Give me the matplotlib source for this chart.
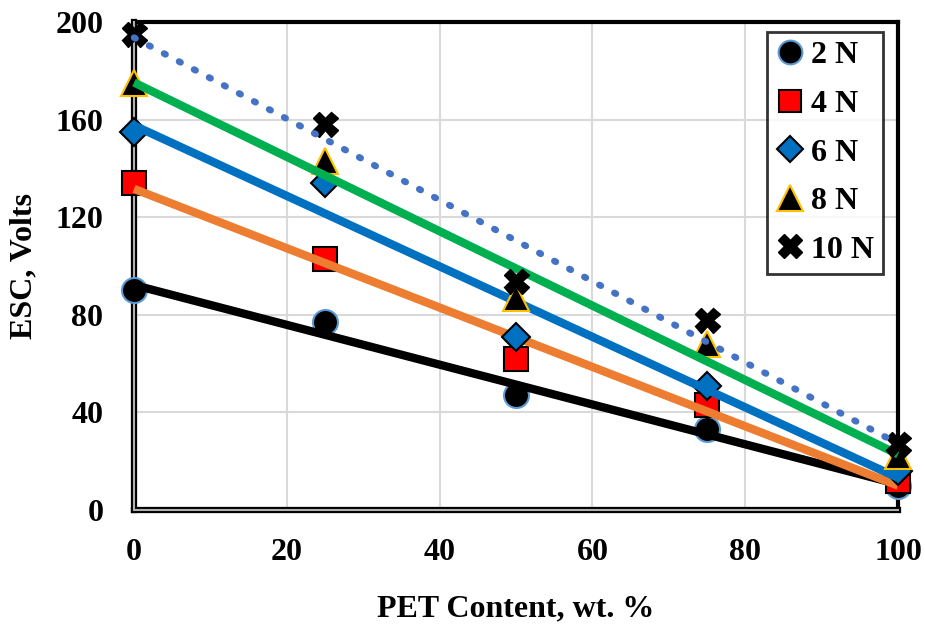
import numpy as np
import matplotlib
matplotlib.use('Agg')
import matplotlib.pyplot as plt

# PET content (wt. %) and ESC readings (Volts) for each load
pet = [0, 25, 50, 75, 100]
esc_2n = [90, 77, 47, 33, 10]
esc_4n = [134, 103, 62, 43, 12]
esc_6n = [155, 134, 71, 51, 16]
esc_8n = [175, 143, 87, 68, 22]
esc_10n = [195, 158, 94, 78, 27]
labels = ['2 N', '4 N', '6 N', '8 N', '10 N']

plt.rcParams['font.family'] = 'Liberation Serif'
plt.rcParams['font.weight'] = 'bold'

fig = plt.figure(figsize=(9.25, 6.25), dpi=100)
ax = fig.add_axes([0.1449, 0.184, 0.8259, 0.7808])

series = [esc_2n, esc_4n, esc_6n, esc_8n, esc_10n]
styles = [
    dict(marker='o', mfc='black', mec='#5B9BD5', ms=18, mew=1.5),
    dict(marker='s', mfc='#FF0000', mec='black', ms=17, mew=1.5),
    dict(marker='D', mfc='#0070C0', mec='black', ms=14, mew=1.5),
    dict(marker='^', mfc='black', mec='#FFC000', ms=19, mew=1.5),
    dict(marker='X', mfc='black', mec='black', ms=18, mew=1),
]
trend = [
    dict(color='black', lw=6),
    dict(color='#ED7D31', lw=6),
    dict(color='#0070C0', lw=6),
    dict(color='#00B050', lw=6),
    dict(color='#4472C4', lw=4.8, ls=(0, (0.25, 2.3)), dash_capstyle='round'),
]

x = np.array(pet, dtype=float)
xx = np.array([0.0, 100.0])
for ys, st, tr, lab in zip(series, styles, trend, labels):
    ax.plot(pet, ys, ls='none', label=lab, clip_on=False, zorder=4, **st)
    k, b = np.polyfit(x, np.array(ys, dtype=float), 1)
    ax.plot(xx, k * xx + b, clip_on=False, zorder=4, solid_capstyle='butt', **tr)

ax.set_xlim(0, 100)
ax.set_ylim(0, 200)
ax.set_xticks(range(0, 101, 20))
ax.set_yticks(range(0, 201, 40))
ax.grid(True, color='#d9d9d9', lw=1.5)
ax.set_axisbelow(True)
ax.tick_params(length=0, labelsize=23)
ax.tick_params(axis='x', pad=20)
ax.tick_params(axis='y', pad=22)
for t in ax.get_xticklabels() + ax.get_yticklabels():
    t.set_fontweight('bold')

for s in ax.spines.values():
    s.set_linewidth(3)
    s.set_color('black')
ax.spines['left'].set_linewidth(4.5)
ax.spines['bottom'].set_linewidth(4.5)
ax.axvline(0, color='#b0b0b0', lw=1.5, zorder=3, clip_on=False)
ax.axhline(0, color='#b0b0b0', lw=1.5, zorder=3, clip_on=False)

ax.set_xlabel('PET Content, wt. %', fontsize=23, fontweight='bold', labelpad=20)
ax.set_ylabel('ESC, Volts', fontsize=23, fontweight='bold', labelpad=12)

leg = ax.legend(loc='upper right', bbox_to_anchor=(0.9805, 0.9805), fontsize=23,
                frameon=True, fancybox=False, handlelength=0.8, handletextpad=0.25,
                labelspacing=0.6, borderpad=0.3, borderaxespad=0, markerscale=0.95)
leg.get_frame().set_edgecolor('black')
leg.get_frame().set_linewidth(2)
for t in leg.get_texts():
    t.set_fontweight('bold')

fig.savefig('out.png', dpi=100)
